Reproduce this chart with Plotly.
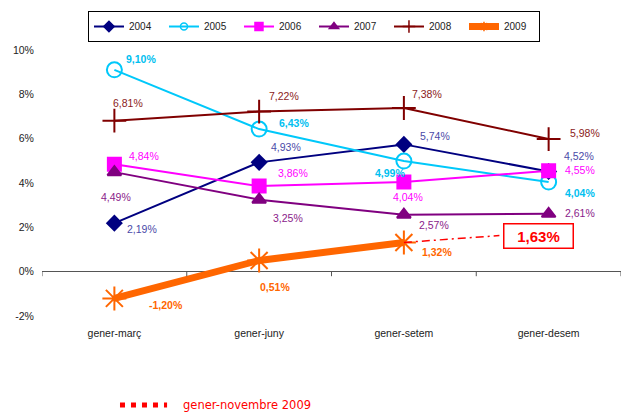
import plotly.graph_objects as go

categories = ["gener-març", "gener-juny", "gener-setem", "gener-desem"]
years = ["2004", "2005", "2006", "2007", "2008", "2009"]
v2004 = [2.19, 4.93, 5.74, 4.52]
v2005 = [9.10, 6.43, 4.99, 4.04]
v2006 = [4.84, 3.86, 4.04, 4.55]
v2007 = [4.49, 3.25, 2.57, 2.61]
v2008 = [6.81, 7.22, 7.38, 5.98]
v2009 = [-1.20, 0.51, 1.32]
projection_value = 1.63
projection_label = "gener-novembre 2009"
yticks = [-2, 0, 2, 4, 6, 8, 10]

series = [v2004, v2005, v2006, v2007, v2008, v2009]

styles = {
    "2004": dict(color="#000080", symbol="diamond", size=11, lw=2, lab="#4a4aa8", bold=False, lsize=8, llw=2),
    "2005": dict(color="#00C8FA", symbol="circle-open", size=15, lw=2, lab="#00C0F0", bold=True, lsize=7, llw=2),
    "2006": dict(color="#FF00FF", symbol="square", size=13, lw=2, lab="#FF00FF", bold=False, lsize=8, llw=2),
    "2007": dict(color="#800080", symbol="triangle-up", size=12, lw=2, lab="#8a1a8a", bold=False, lsize=8, llw=2),
    "2008": dict(color="#800000", symbol="cross-thin-open", size=17, lw=2, lab="#8b1a1a", bold=False, lsize=9, llw=2),
    "2009": dict(color="#FF6600", symbol="asterisk-open", size=20, lw=7, lab="#FF6600", bold=True, lsize=8, llw=7),
}
# label pixel offsets (dx, dy down-positive)
offsets = {
    "2004": [(28, 6), (27, -15), (31, -8), (30, -15)],
    "2005": [(27, -11), (35, -6), (-14, 12), (31, 11)],
    "2006": [(30, -8), (34, -13), (4, 15), (31, -1)],
    "2007": [(2, 25), (29, 18), (30, 10), (31, -1)],
    "2008": [(14, -18), (25, -16), (23, -14), (36, -6)],
    "2009": [(52, 7), (16, 27), (33, 10)],
}

fig = go.Figure()
annotations = []
for yr, vals in zip(years, series):
    s = styles[yr]
    xs = list(range(len(vals)))
    fig.add_trace(go.Scatter(
        x=xs, y=vals, name=yr, mode="lines+markers", showlegend=False,
        line=dict(color=s["color"], width=s["lw"]),
        marker=dict(symbol=s["symbol"], size=s["size"], color=s["color"],
                    line=dict(color=s["color"], width=2)),
        hoverinfo="skip",
    ))
    # legend-only entry with smaller symbol
    fig.add_trace(go.Scatter(
        x=[None], y=[None], name=yr, mode="lines+markers", showlegend=True,
        line=dict(color=s["color"], width=s["llw"]),
        marker=dict(symbol=s["symbol"], size=s["lsize"], color=s["color"],
                    line=dict(color=s["color"], width=1.5)),
        hoverinfo="skip",
    ))
    for i, v in enumerate(vals):
        dx, dy = offsets[yr][i]
        txt = f"{v:.2f}%".replace(".", ",")
        if s["bold"]:
            txt = "<b>" + txt + "</b>"
        annotations.append(dict(
            x=xs[i], y=v, xref="x", yref="y", text=txt, showarrow=False,
            xshift=dx, yshift=-dy,
            font=dict(family="Liberation Sans, Arial", size=10.5, color=s["lab"]),
        ))

# projection dash-dot line
last_x = len(v2009) - 1
fig.add_trace(go.Scatter(
    x=[last_x, last_x + 0.66], y=[v2009[-1], projection_value], mode="lines",
    line=dict(color="#FF0000", width=1.5, dash="8px,4px,2px,4px"),
    showlegend=False, hoverinfo="skip",
))
annotations.append(dict(
    x=last_x + 0.93, y=projection_value, xref="x", yref="y",
    text="<b>" + f"{projection_value:.2f}%".replace(".", ",") + "</b>",
    showarrow=False, font=dict(family="Liberation Sans, Arial", size=15, color="#FF0000"),
    bordercolor="#FF0000", borderwidth=1.5, borderpad=3, width=62, bgcolor="white",
))
annotations.append(dict(
    x=0.240, y=-0.2817, xref="paper", yref="paper", xanchor="left", yanchor="middle",
    text=projection_label, showarrow=False,
    font=dict(family="DejaVu Sans", size=11.5, color="#FF0000"),
))

shapes = []
# tick marks on zero line at category boundaries
for b in [-0.5, 0.5, 1.5, 2.5, 3.5]:
    shapes.append(dict(type="line", xref="x", yref="y", x0=b, x1=b, y0=0, y1=-0.2,
                       line=dict(color="#555555", width=1)))
shapes.append(dict(type="line", xref="paper", yref="paper", x0=0.1347, x1=0.216,
                   y0=-0.2817, y1=-0.2817, line=dict(color="#FF0000", width=5, dash="5px,6px")))

fig.update_layout(
    width=629, height=412,
    margin=dict(l=34, r=16, t=33, b=95, autoexpand=False),
    plot_bgcolor="white", paper_bgcolor="white",
    font=dict(family="Liberation Sans, Arial", size=10.5, color="#222222"),
    xaxis=dict(range=[-0.5, 3.5], tickmode="array", tickvals=list(range(len(categories))),
               ticktext=categories, showgrid=False, zeroline=False, showline=False,
               ticks="", tickfont=dict(size=10.5), automargin=False),
    yaxis=dict(range=[-2.4, 10.4], tickmode="array", tickvals=yticks,
               ticktext=[f"{t}%" for t in yticks], showgrid=False,
               zeroline=True, zerolinecolor="#555555", zerolinewidth=1,
               showline=False, ticks="outside", ticklen=5, tickcolor="rgba(0,0,0,0)",
               tickfont=dict(size=10.5), automargin=False),
    legend=dict(orientation="h", x=0.0794, y=1.1056, xanchor="left", yanchor="top",
                bordercolor="black", borderwidth=1, font=dict(size=10),
                entrywidth=30, itemwidth=30, tracegroupgap=0),
    annotations=annotations, shapes=shapes,
    showlegend=True,
)

fig.write_html("out.html")
